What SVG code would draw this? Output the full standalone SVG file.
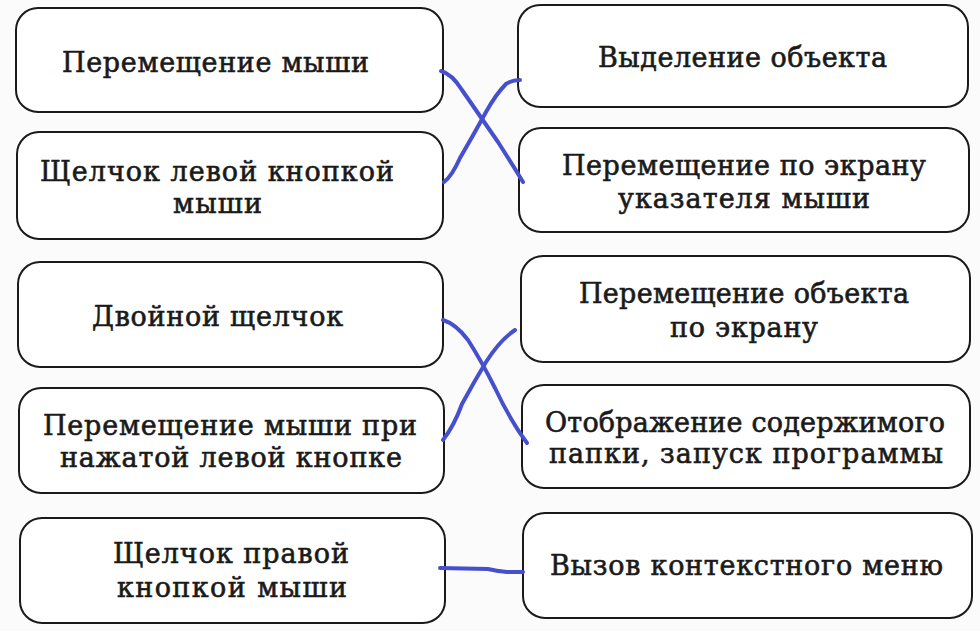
<svg xmlns="http://www.w3.org/2000/svg" width="980" height="631" viewBox="0 0 980 631">
<style>
.box{fill:#fff;stroke:#1a1a1a;stroke-width:2}
.t{font-family:"DejaVu Serif","Liberation Serif",serif;font-size:27px;fill:#1a1a1a;stroke:#1a1a1a;stroke-width:0.6}
.c{fill:none;stroke:#4650cc;stroke-width:4;stroke-linecap:round;stroke-linejoin:round}
</style>
<rect width="980" height="631" fill="#fbfbfb"/>
<g id="l1"><rect class="box" x="16" y="8" width="427" height="104" rx="22"/>
<text class="t" x="62" y="72" textLength="307" lengthAdjust="spacing">Перемещение мыши</text></g>
<g id="l2"><rect class="box" x="17" y="132" width="426" height="107" rx="22"/>
<text class="t" x="40" y="181" textLength="354" lengthAdjust="spacing">Щелчок левой кнопкой</text>
<text class="t" x="173" y="213" textLength="89" lengthAdjust="spacing">мыши</text></g>
<g id="l3"><rect class="box" x="18" y="262" width="425" height="105" rx="22"/>
<text class="t" x="92" y="326" textLength="251" lengthAdjust="spacing">Двойной щелчок</text></g>
<g id="l4"><rect class="box" x="19" y="388" width="425" height="105" rx="22"/>
<text class="t" x="43" y="435" textLength="374" lengthAdjust="spacing">Перемещение мыши при</text>
<text class="t" x="60" y="467" textLength="342" lengthAdjust="spacing">нажатой левой кнопке</text></g>
<g id="l5"><rect class="box" x="20" y="518" width="425" height="105" rx="22"/>
<text class="t" x="113" y="563" textLength="236" lengthAdjust="spacing">Щелчок правой</text>
<text class="t" x="117" y="597" textLength="230" lengthAdjust="spacing">кнопкой мыши</text></g>
<g id="r1"><rect class="box" x="518" y="5" width="450" height="102" rx="22"/>
<text class="t" x="598" y="67" textLength="289" lengthAdjust="spacing">Выделение объекта</text></g>
<g id="r2"><rect class="box" x="519" y="128" width="450" height="104" rx="22"/>
<text class="t" x="562" y="175" textLength="364" lengthAdjust="spacing">Перемещение по экрану</text>
<text class="t" x="618" y="208" textLength="252" lengthAdjust="spacing">указателя мыши</text></g>
<g id="r3"><rect class="box" x="521" y="256" width="449" height="106" rx="22"/>
<text class="t" x="579" y="303" textLength="330" lengthAdjust="spacing">Перемещение объекта</text>
<text class="t" x="670" y="337" textLength="148" lengthAdjust="spacing">по экрану</text></g>
<g id="r4"><rect class="box" x="522" y="385" width="448" height="103" rx="22"/>
<text class="t" x="545" y="432" textLength="400" lengthAdjust="spacing">Отображение содержимого</text>
<text class="t" x="549" y="463" textLength="394" lengthAdjust="spacing">папки, запуск программы</text></g>
<g id="r5"><rect class="box" x="523" y="513" width="449" height="105" rx="22"/>
<text class="t" x="550" y="575" textLength="393" lengthAdjust="spacing">Вызов контекстного меню</text></g>
<g id="connectors">
<path class="c" d="M441 71 Q452 74 462 90 Q480 116 498 142 Q512 164 523 182"/>
<path class="c" d="M444 182 Q452 176 460 158 Q474 134 486 112 Q496 94 506 84 Q512 80 520 80"/>
<path class="c" d="M443 320 Q456 324 468 340 Q482 362 495 388 Q510 420 527 443"/>
<path class="c" d="M443 440 Q454 426 462 404 Q474 382 486 362 Q500 340 515 330"/>
<path class="c" d="M440 568 L488 569 Q496 571 507 572 L523 572"/>
</g>
</svg>
